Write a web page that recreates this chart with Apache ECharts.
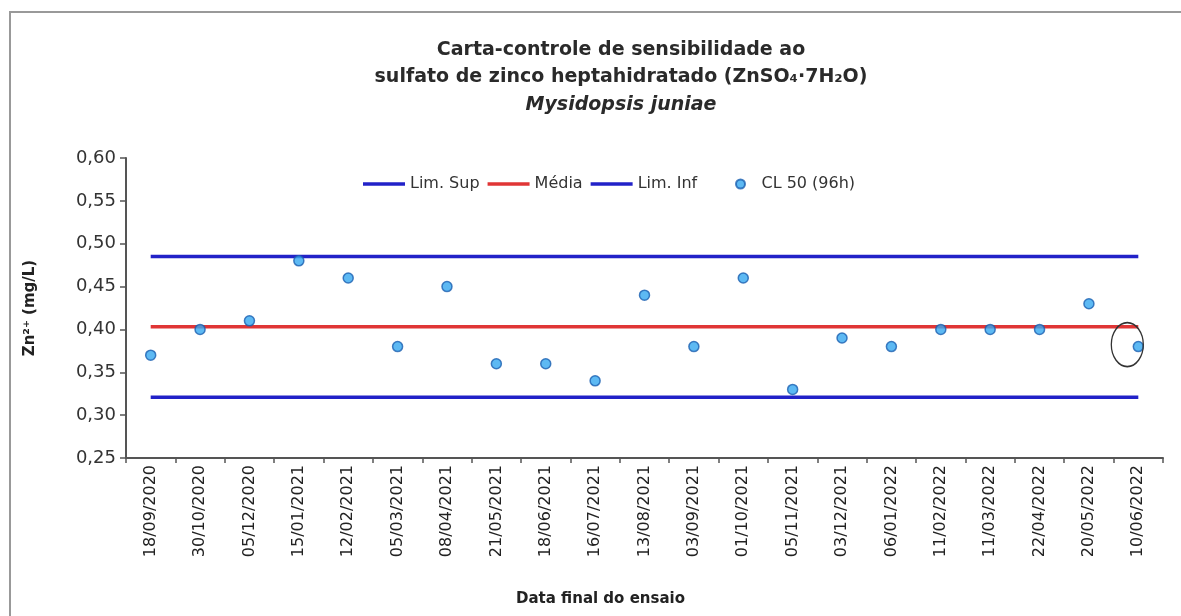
<!DOCTYPE html>
<html>
<head>
<meta charset="utf-8">
<script src="https://cdn.jsdelivr.net/npm/echarts@6/dist/echarts.min.js"></script>
<style>
html,body{margin:0;padding:0;background:#fff;}
#chart{width:1181px;height:616px;}
</style>
</head>
<body>
<div id="chart"></div>
<script>
const categories = ['18/09/2020','30/10/2020','05/12/2020','15/01/2021','12/02/2021','05/03/2021','08/04/2021','21/05/2021','18/06/2021','16/07/2021','13/08/2021','03/09/2021','01/10/2021','05/11/2021','03/12/2021','06/01/2022','11/02/2022','11/03/2022','22/04/2022','20/05/2022','10/06/2022'];
const cl50 = [0.37,0.40,0.41,0.48,0.46,0.38,0.45,0.36,0.36,0.34,0.44,0.38,0.46,0.33,0.39,0.38,0.40,0.40,0.40,0.43,0.38];
const limSup = [0.485,0.485,0.485,0.485,0.485,0.485,0.485,0.485,0.485,0.485,0.485,0.485,0.485,0.485,0.485,0.485,0.485,0.485,0.485,0.485,0.485];
const media = [0.403,0.403,0.403,0.403,0.403,0.403,0.403,0.403,0.403,0.403,0.403,0.403,0.403,0.403,0.403,0.403,0.403,0.403,0.403,0.403,0.403];
const limInf = [0.321,0.321,0.321,0.321,0.321,0.321,0.321,0.321,0.321,0.321,0.321,0.321,0.321,0.321,0.321,0.321,0.321,0.321,0.321,0.321,0.321];
const yTicks = {min: 0.25, max: 0.60, interval: 0.05};

const F = 'DejaVu Sans';
const chart = echarts.init(document.getElementById('chart'), null, {renderer: 'canvas'});
chart.setOption({
  backgroundColor: '#fff',
  animation: false,
  title: {
    text: 'Carta-controle de sensibilidade ao\nsulfato de zinco heptahidratado (ZnSO\u2084\u00b77H\u2082O)\n{i|Mysidopsis juniae}',
    left: 616, top: 32, textAlign: 'center',
    textStyle: {
      fontFamily: F, fontSize: 19, fontWeight: 'bold', color: '#2a2a2a', lineHeight: 27,
      rich: {i: {fontFamily: F, fontSize: 19, fontWeight: 'bold', fontStyle: 'italic', color: '#2a2a2a', lineHeight: 28}}
    }
  },
  legend: [{
    data: [{name: 'Lim. Sup', icon: 'rect'}, {name: 'Média', icon: 'rect'}, {name: 'Lim. Inf', icon: 'rect'}],
    left: 358, top: 171, itemWidth: 42, itemHeight: 3.5, itemGap: 8,
    textStyle: {fontFamily: F, fontSize: 16, color: '#333'}
  }, {
    data: ['CL 50 (96h)'],
    left: 730, top: 171, itemWidth: 16, itemHeight: 9, itemGap: 8,
    textStyle: {fontFamily: F, fontSize: 16, color: '#333', padding: [0, 0, 0, 8]}
  }],
  grid: {left: 126, right: 18, top: 158, bottom: 158},
  xAxis: {
    type: 'category', data: categories, boundaryGap: true,
    axisLine: {lineStyle: {color: '#555', width: 2}},
    axisTick: {show: true, interval: 0, length: 5, lineStyle: {color: '#555', width: 1.5}},
    axisLabel: {interval: 0, rotate: 90, margin: 7, fontFamily: F, fontSize: 16, color: '#222'},
    splitLine: {show: false}
  },
  yAxis: {
    type: 'value', min: yTicks.min, max: yTicks.max, interval: yTicks.interval,
    name: 'Zn\u00b2\u207a (mg/L)', nameLocation: 'middle', nameGap: 88, nameRotate: 90,
    nameTextStyle: {fontFamily: F, fontSize: 15, fontWeight: 'bold', color: '#222'},
    axisLine: {show: true, lineStyle: {color: '#555', width: 2}},
    axisTick: {show: true, length: 6, lineStyle: {color: '#555', width: 1.5}},
    axisLabel: {margin: 10, fontFamily: F, fontSize: 18, color: '#333',
      formatter: v => v.toFixed(2).replace('.', ',')},
    splitLine: {show: false}
  },
  graphic: [
    {type: 'rect', shape: {x: 10, y: 12, width: 1300, height: 800}, style: {fill: 'none', stroke: '#999', lineWidth: 2}, silent: true},
    {type: 'text', left: 516, top: 592, style: {text: 'Data final do ensaio', fontFamily: F, fontSize: 15, fontWeight: 'bold', fill: '#222'}, silent: true}
  ],
  series: [
    {name: 'Lim. Sup', type: 'line', data: limSup, symbol: 'none', lineStyle: {color: '#2222c8', width: 3.5}, itemStyle: {color: '#2222c8'}, z: 2},
    {name: 'Média', type: 'line', data: media, symbol: 'none', lineStyle: {color: '#e03535', width: 3.5}, itemStyle: {color: '#e03535'}, z: 2},
    {name: 'Lim. Inf', type: 'line', data: limInf, symbol: 'none', lineStyle: {color: '#2222c8', width: 3.5}, itemStyle: {color: '#2222c8'}, z: 2},
    {name: 'CL 50 (96h)', type: 'scatter', data: cl50, symbol: 'circle', symbolSize: 10,
      itemStyle: {color: '#35a8f0', borderColor: '#1a5fb0', borderWidth: 1.5}, z: 3,
      markPoint: {
        symbol: 'circle', symbolSize: [32, 44], symbolOffset: [-11, -2],
        label: {show: false},
        itemStyle: {color: 'rgba(0,0,0,0)', borderColor: '#333', borderWidth: 1.5},
        data: [{coord: [categories.length - 1, cl50[cl50.length - 1]]}]
      }
    }
  ]
});
</script>
</body>
</html>
